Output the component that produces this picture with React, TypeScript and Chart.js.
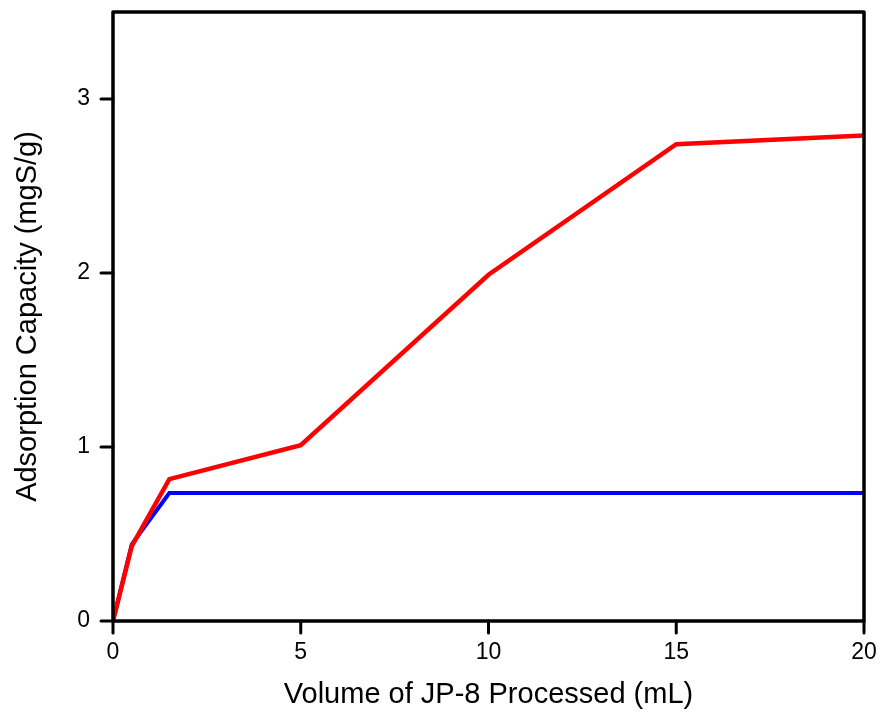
import React, { useEffect, useRef } from "react";
import { Chart, registerables } from "chart.js";

Chart.register(...registerables);

const volumes = [0, 0.5, 1.5, 5, 10, 15, 20];
const redSeries = [0, 0.43, 0.815, 1.01, 1.99, 2.74, 2.79];
const blueSeries = [0, 0.44, 0.735, 0.735, 0.735, 0.735, 0.735];
const xTickValues = [0, 5, 10, 15, 20];
const yTickValues = [0, 1, 2, 3];
const xTitle = "Volume of JP-8 Processed (mL)";
const yTitle = "Adsorption Capacity (mgS/g)";

const framePlugin = {
  id: "frame",
  afterDatasetsDraw(chart: any) {
    const { ctx, chartArea, scales } = chart;
    ctx.save();
    ctx.strokeStyle = "#000";
    ctx.lineWidth = 3.5;
    ctx.lineJoin = "round";
    ctx.strokeRect(chartArea.left, chartArea.top, chartArea.right - chartArea.left, chartArea.bottom - chartArea.top);
    ctx.lineWidth = 3;
    ctx.lineCap = "round";
    xTickValues.forEach((v) => {
      const px = scales.x.getPixelForValue(v);
      ctx.beginPath();
      ctx.moveTo(px, chartArea.bottom);
      ctx.lineTo(px, chartArea.bottom + 12);
      ctx.stroke();
    });
    yTickValues.forEach((v) => {
      const py = scales.y.getPixelForValue(v);
      ctx.beginPath();
      ctx.moveTo(chartArea.left, py);
      ctx.lineTo(chartArea.left - 12, py);
      ctx.stroke();
    });
    ctx.restore();
  },
};

export default function App() {
  const ref = useRef<HTMLCanvasElement>(null);
  useEffect(() => {
    if (!ref.current) return;
    const toPts = (ys: number[]) => volumes.map((x, i) => ({ x, y: ys[i] }));
    const chart = new Chart(ref.current, {
      type: "line",
      data: {
        datasets: [
          { data: toPts(redSeries), borderColor: "#ff0000", borderWidth: 4.5, pointRadius: 0, fill: false, tension: 0 },
          { data: toPts(blueSeries), borderColor: "#0000ff", borderWidth: 4, pointRadius: 0, fill: false, tension: 0 },
        ],
      },
      options: {
        animation: false,
        responsive: false,
        layout: { padding: { top: 12, right: 16, left: 0, bottom: 0 } },
        plugins: { legend: { display: false }, tooltip: { enabled: false } },
        scales: {
          x: {
            type: "linear",
            min: 0,
            max: 20,
            ticks: { stepSize: 5, color: "#000", padding: 10, font: { family: "Liberation Sans", size: 23 } },
            grid: { display: false },
            border: { display: false },
            title: { display: true, text: xTitle, color: "#000", padding: { top: 0, bottom: 0 }, font: { family: "Liberation Sans", size: 29 } },
            afterFit: (s: any) => { s.height = 91; s.paddingLeft = 0; s.paddingRight = 0; },
          },
          y: {
            type: "linear",
            min: 0,
            max: 3.5,
            ticks: { stepSize: 1, color: "#000", padding: 15, font: { family: "Liberation Sans", size: 23 } },
            afterBuildTicks: (s: any) => { s.ticks = s.ticks.filter((t: any) => Number.isInteger(t.value)); },
            grid: { display: false },
            border: { display: false },
            title: { display: true, text: yTitle, color: "#000", padding: { top: 11, bottom: 0 }, font: { family: "Liberation Sans", size: 29 } },
            afterFit: (s: any) => { s.width = 113; s.paddingTop = 0; s.paddingBottom = 0; },
          },
        },
      },
      plugins: [framePlugin],
    } as any);
    return () => chart.destroy();
  }, []);
  return (
    <div style={{ position: "fixed", left: 0, top: 0, width: 880, height: 712, background: "#fff" }}>
      <canvas ref={ref} width={880} height={712} style={{ width: 880, height: 712 }} />
    </div>
  );
}
